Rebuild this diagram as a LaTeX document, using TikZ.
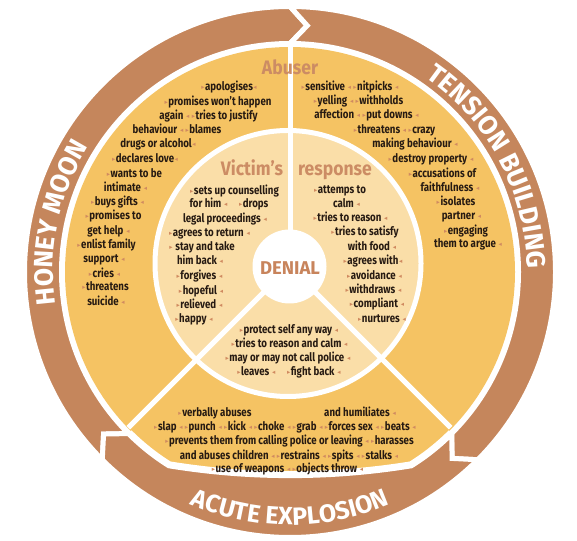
\documentclass[tikz,border=0pt]{standalone}
\usepackage{fontspec}
\usetikzlibrary{decorations.text}
\newfontfamily\bodyfont{Fira Sans}[FakeStretch=0.82]
\newfontfamily\ttlfont{Fira Sans}[FakeStretch=0.9]
\newfontfamily\ringfont{Fira Sans}
\newfontfamily\symfont{DejaVu Sans}
\definecolor{ringbrown}{RGB}{197,134,92}
\definecolor{yel}{RGB}{245,195,99}
\definecolor{pale}{RGB}{250,222,168}
\definecolor{ttl}{RGB}{204,140,100}
\definecolor{denial}{RGB}{200,132,92}
\definecolor{txt}{RGB}{38,26,18}
\definecolor{bul}{RGB}{208,138,96}
\newcommand\bR{\raisebox{.6pt}{\symfont\fontsize{6.5}{6.5}\selectfont\color{bul}▸}\kern.5pt}
\newcommand\bL{\kern.5pt\raisebox{.6pt}{\symfont\fontsize{6.5}{6.5}\selectfont\color{bul}◂}}
\tikzset{
 bt/.style={font=\bodyfont\bfseries\fontsize{11.8}{13}\selectfont, text=txt, inner sep=0pt, anchor=mid},
 ttlstyle/.style={font=\ttlfont\bfseries\fontsize{19.5}{19.5}\selectfont, text=ttl, inner sep=0pt, anchor=base},
 arrowband/.style={fill=ringbrown, draw=white, line width=5pt, line join=miter},
 divider/.style={draw=white, line width=5pt}
}
\begin{document}
\begin{tikzpicture}[x=1pt,y=1pt]
\useasboundingbox (0,0) rectangle (577,540);
\fill[white] (0,0) rectangle (577,540);
\coordinate (C) at (290,268);
\coordinate (P) at (288,276.5);
\coordinate (D) at (289.5,273.5);
% yellow disk
\fill[yel] (C) circle[radius=225];
% pale disk
\path[fill=pale, draw=white, line width=5pt] (P) circle[radius=133];
% dividers
\draw[divider] (290,273.5) -- (290,495);
\draw[divider] (D) -- ++(-135:228);
\draw[divider] (D) -- ++(-45:228);
\fill[white] (D) circle[radius=37];
% ring arrows
\begin{scope}[shift={(290,268)}]
\draw[white, line width=9pt] (-135:228.5) arc[start angle=-135, end angle=-122, radius=228.5]
  arc[start angle=-99.26, end angle=-80.74, radius=753.5]
  arc[start angle=-58, end angle=-45, radius=228.5];
\path[arrowband] (225:265.5) arc[start angle=225, end angle=90, radius=265.5] -- (86:247)
  -- (90:228.5) arc[start angle=90, end angle=225, radius=228.5] -- (221:247) -- cycle;
\path[arrowband] (90:265.5) arc[start angle=90, end angle=-45, radius=265.5] -- (-49:247)
  -- (-45:228.5) arc[start angle=-45, end angle=90, radius=228.5] -- (86:247) -- cycle;
\path[arrowband] (-45:265.5) arc[start angle=-45, end angle=-135, radius=265.5] -- (-139:247)
  -- (-135:228.5) arc[start angle=-135, end angle=-122, radius=228.5]
  arc[start angle=-99.26, end angle=-80.74, radius=753.5]
  arc[start angle=-58, end angle=-45, radius=228.5] -- (-49:247) -- cycle;
\path[decorate, decoration={text along path, text color=white, text align=center,
  text={|\ringfont\bfseries\fontsize{26.5}{26.5}\selectfont|HONEY MOON}}]
  (221:237) arc[start angle=221, end angle=115, radius=237];
\path[decorate, decoration={text along path, text color=white, text align=center,
  text={|\ringfont\bfseries\fontsize{26.5}{26.5}\selectfont|TENSION BUILDING}}]
  (83:237) arc[start angle=83, end angle=-27, radius=237];
\path[decorate, decoration={text along path, text color=white, text align=center,
  text={|\ringfont\bfseries\fontsize{25}{25}\selectfont|ACUTE EXPLOSION}}]
  (-152:253) arc[start angle=-152, end angle=-28, radius=253];
\end{scope}
% titles
\node[ttlstyle] (abuser) at (290,465) {Abuser};
\node[ttlstyle] (victim) at (252,364.5) {Victim’s};
\node[ttlstyle] (resp) at (335,364.5) {response};
\node[inner sep=0pt, anchor=base, text=denial, font=\ringfont\bfseries\fontsize{18.5}{18.5}\selectfont] (denial) at (290,265) {DENIAL};
% honey moon
\node[bt] (h1) at (229,452) {\bR apologises\bL};
\node[bt] (h2) at (218,437) {\bR promises won’t happen};
\node[bt] (h3) at (208.5,423) {again \bL\ \bR tries to justify};
\node[bt] (h4) at (177,409) {behaviour \bL\ \bR blames};
\node[bt] (h5) at (158,395) {drugs or alcohol\bL};
\node[bt] (h6) at (145,380) {\bR declares love\bL};
\node[bt] (h7) at (134.5,365) {\bR wants to be};
\node[bt] (h8) at (125.5,351) {intimate \bL};
\node[bt] (h9) at (117.5,337) {\bR buys gifts \bL};
\node[bt] (h10) at (113.5,323) {\bR promises to};
\node[bt] (h11) at (108.5,308) {get help \bL};
\node[bt] (h12) at (106.5,294) {\bR enlist family};
\node[bt] (h13) at (104,280) {support \bL};
\node[bt] (h14) at (104.5,265) {\bR cries \bL};
\node[bt] (h15) at (105.5,252) {\bR threatens};
\node[bt] (h16) at (106,237) {suicide \bL};
% tension building
\node[bt] (t1) at (350,452) {\bR sensitive \bL\ \bR nitpicks \bL};
\node[bt] (t2) at (358.5,438) {\bR yelling \bL\ \bR withholds};
\node[bt] (t3) at (366.5,424) {affection \bL\ \bR put downs \bL};
\node[bt] (t4) at (394.5,409) {\bR threatens \bL\ \bR crazy};
\node[bt] (t5) at (415,395) {making behaviour \bL};
\node[bt] (t6) at (431,380) {\bR destroy property \bL};
\node[bt] (t7) at (442.5,365) {\bR accusations of};
\node[bt] (t8) at (450,351) {faithfulness \bL};
\node[bt] (t9) at (456,337) {\bR isolates};
\node[bt] (t10) at (461.5,323) {partner \bL};
\node[bt] (t11) at (466,308) {\bR engaging};
\node[bt] (t12) at (468,295) {them to argue \bL};
% victim left
\node[bt] (v1) at (234.5,348) {\bR sets up counselling};
\node[bt] (v2) at (229,335) {for him \bL\quad\bR drops};
\node[bt] (v3) at (225,320) {legal proceedings \bL};
\node[bt] (v4) at (209.5,306) {\bR agrees to return \bL};
\node[bt] (v5) at (202,292) {\bR\ stay and take};
\node[bt] (v6) at (200,278) {him back \bL};
\node[bt] (v7) at (199.5,263) {\bR forgives \bL};
\node[bt] (v8) at (201,248) {\bR hopeful \bL};
\node[bt] (v9) at (199.5,234) {\bR relieved \bL};
\node[bt] (v10) at (194,220) {\bR happy \bL};
% victim right
\node[bt] (r1) at (340,349) {\bR attemps to};
\node[bt] (r2) at (346.5,335) {calm \bL};
\node[bt] (r3) at (350.5,321) {\bR tries to reason \bL};
\node[bt] (r4) at (365,307) {\bR tries to satisfy};
\node[bt] (r5) at (372,292) {with food \bL};
\node[bt] (r6) at (373,278) {\bR agrees with\bL};
\node[bt] (r7) at (374.5,263) {\bR avoidance \bL};
\node[bt] (r8) at (373.5,249) {\bR withdraws \bL};
\node[bt] (r9) at (377,235) {\bR compliant \bL};
\node[bt] (r10) at (382,220) {\bR nurtures \bL};
% victim bottom
\node[bt] (b1) at (289,209) {\bR protect self any way \bL};
\node[bt] (b2) at (289.5,195) {\bR tries to reason and calm \bL};
\node[bt] (b3) at (288,181) {\bR may or may not call police \bL};
\node[bt] (b4) at (289,167) {\bR leaves \bL\quad\bR fight back \bL};
% acute explosion
\node[bt] (a1) at (215,126) {\bR verbally abuses};
\node[bt] (a2) at (360,126) {and humiliates \bL};
\node[bt] (a3) at (285,112) {\bR slap \bL\ \bR punch \bL\ \bR kick \bL\ \bR choke \bL\ \bR grab \bL\ \bR forces sex \bL\ \bR beats \bL};
\node[bt] (a4) at (289.5,98) {\bR prevents them from calling police or leaving \bL\ \bR harasses};
\node[bt] (a5) at (289,83) {and abuses children \bL\ \bR restrains \bL\ \bR spits \bL\ \bR stalks \bL};
\node[bt] (a6) at (287.5,70) {\bR use of weapons \bL\ \bR objects throw \bL};
\end{tikzpicture}
\end{document}
